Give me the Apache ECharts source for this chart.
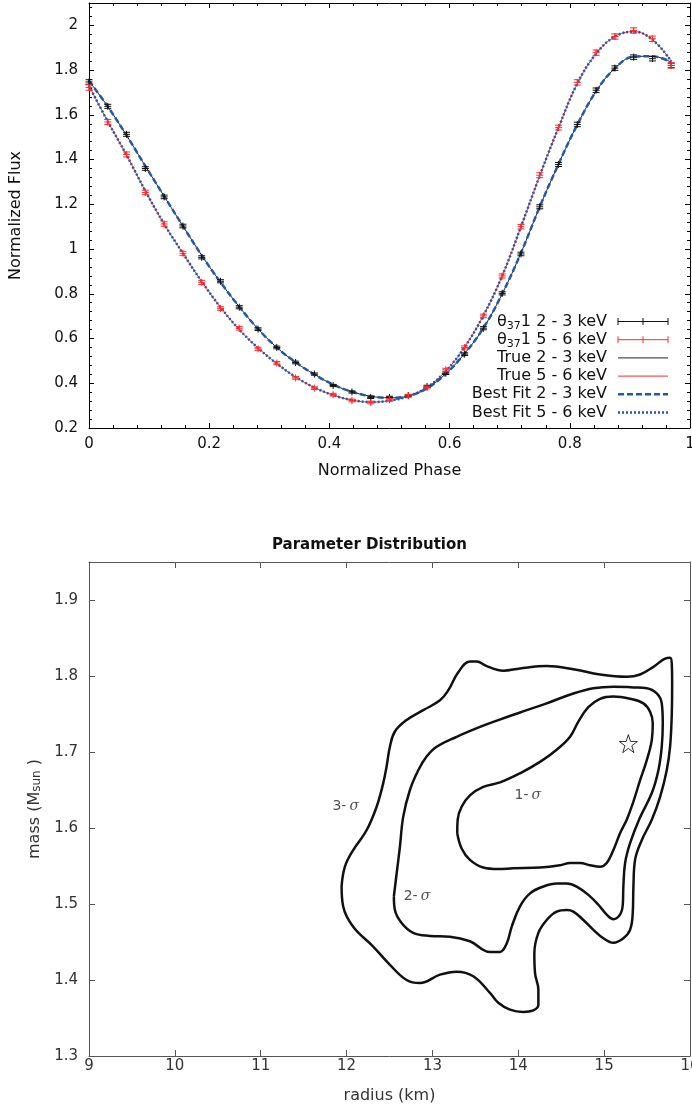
<!DOCTYPE html>
<html><head><meta charset="utf-8">
<script src="https://cdn.jsdelivr.net/npm/echarts@6/dist/echarts.min.js"></script>
<style>html,body{margin:0;padding:0;background:#fff;overflow:hidden}#c{width:692px;height:1110px}</style>
</head><body><div id="c"></div>
<script>
// ---------- Top panel data: light curves ----------
const phase = [0, 0.03125, 0.0625, 0.09375, 0.125, 0.15625, 0.1875, 0.21875, 0.25, 0.28125,
  0.3125, 0.34375, 0.375, 0.40625, 0.4375, 0.46875, 0.5, 0.53125, 0.5625, 0.59375,
  0.625, 0.65625, 0.6875, 0.71875, 0.75, 0.78125, 0.8125, 0.84375, 0.875, 0.90625, 0.9375, 0.96875];
// simulated observations (theta_37 1)
const flux23 = [1.747, 1.638, 1.513, 1.360, 1.233, 1.103, 0.963, 0.856, 0.740, 0.642,
  0.560, 0.493, 0.441, 0.390, 0.361, 0.337, 0.337, 0.345, 0.386, 0.445,
  0.530, 0.646, 0.802, 0.978, 1.189, 1.378, 1.557, 1.710, 1.809, 1.858, 1.851, 1.821];
const flux56 = [1.722, 1.568, 1.423, 1.253, 1.112, 0.981, 0.851, 0.734, 0.646, 0.554,
  0.490, 0.424, 0.378, 0.349, 0.323, 0.314, 0.326, 0.344, 0.381, 0.460,
  0.560, 0.701, 0.880, 1.100, 1.330, 1.543, 1.745, 1.878, 1.950, 1.977, 1.940, 1.821];
const err23 = [0.010, 0.009, 0.009, 0.008, 0.008, 0.008, 0.007, 0.007, 0.007, 0.006,
  0.006, 0.006, 0.005, 0.005, 0.005, 0.005, 0.005, 0.005, 0.005, 0.006,
  0.006, 0.007, 0.007, 0.008, 0.009, 0.009, 0.010, 0.010, 0.010, 0.010, 0.010, 0.010];
const err56 = [0.012, 0.011, 0.011, 0.010, 0.010, 0.009, 0.009, 0.008, 0.008, 0.007,
  0.007, 0.006, 0.006, 0.006, 0.006, 0.006, 0.006, 0.006, 0.006, 0.007,
  0.007, 0.008, 0.009, 0.010, 0.011, 0.011, 0.012, 0.012, 0.012, 0.012, 0.012, 0.012];
// model curves (true and best fit coincide)
const model23 = [1.752, 1.637, 1.508, 1.371, 1.236, 1.103, 0.972, 0.852, 0.742, 0.643,
  0.560, 0.494, 0.440, 0.394, 0.362, 0.342, 0.335, 0.343, 0.378, 0.443,
  0.533, 0.647, 0.800, 0.983, 1.189, 1.380, 1.556, 1.705, 1.808, 1.860, 1.862, 1.835];
const model56 = [1.730, 1.570, 1.420, 1.260, 1.112, 0.981, 0.855, 0.740, 0.640, 0.558,
  0.488, 0.428, 0.381, 0.347, 0.325, 0.316, 0.322, 0.342, 0.382, 0.455,
  0.562, 0.703, 0.880, 1.100, 1.328, 1.543, 1.740, 1.873, 1.950, 1.972, 1.936, 1.840];
const legendLabels = ['{t|θ}{sub|37}{t|1 2 - 3 keV}', '{t|θ}{sub|37}{t|1 5 - 6 keV}',
  'True 2 - 3 keV', 'True 5 - 6 keV', 'Best Fit 2 - 3 keV', 'Best Fit 5 - 6 keV'];

// ---------- Bottom panel data: confidence contours (radius km, mass Msun) ----------
const sigma1 = [[13.289,1.593],[13.294,1.611],[13.340,1.628],[13.437,1.643],[13.592,1.654],[13.787,1.660],
  [14.020,1.672],[14.253,1.687],[14.447,1.703],[14.603,1.720],[14.700,1.740],[14.816,1.759],[14.952,1.770],
  [15.108,1.773],[15.302,1.770],[15.457,1.764],[15.535,1.753],[15.566,1.738],[15.555,1.716],[15.496,1.689],
  [15.419,1.663],[15.333,1.632],[15.263,1.611],[15.185,1.593],[15.108,1.571],[15.030,1.554],[14.952,1.549],
  [14.836,1.551],[14.719,1.554],[14.603,1.554],[14.486,1.551],[14.253,1.548],[13.942,1.547],[13.767,1.546],
  [13.592,1.548],[13.437,1.558],[13.340,1.573]];
const sigma2 = [[12.551,1.510],[12.583,1.540],[12.621,1.575],[12.660,1.615],[12.738,1.650],[12.835,1.676],
  [12.932,1.694],[13.049,1.707],[13.282,1.720],[13.554,1.733],[13.767,1.742],[14.020,1.752],[14.331,1.764],
  [14.641,1.777],[14.875,1.784],[15.108,1.786],[15.341,1.785],[15.496,1.784],[15.613,1.777],[15.671,1.764],
  [15.683,1.738],[15.671,1.707],[15.632,1.676],[15.555,1.646],[15.410,1.612],[15.302,1.580],[15.244,1.554],
  [15.224,1.523],[15.217,1.499],[15.185,1.486],[15.108,1.480],[15.030,1.486],[14.933,1.499],[14.816,1.512],
  [14.680,1.523],[14.564,1.527],[14.447,1.527],[14.292,1.523],[14.137,1.514],[14.020,1.497],[13.923,1.470],
  [13.865,1.448],[13.787,1.437],[13.670,1.437],[13.437,1.451],[13.204,1.457],[12.971,1.458],[12.776,1.462],
  [12.641,1.475],[12.563,1.492]];
const sigma3 = [[11.942,1.523],[11.980,1.549],[12.077,1.571],[12.233,1.597],[12.350,1.628],[12.427,1.659],
  [12.466,1.681],[12.505,1.707],[12.563,1.727],[12.699,1.742],[12.893,1.755],[13.088,1.768],[13.184,1.781],
  [13.301,1.805],[13.437,1.819],[13.515,1.819],[13.631,1.813],[13.826,1.807],[14.020,1.810],[14.331,1.813],
  [14.641,1.809],[14.952,1.802],[15.263,1.799],[15.419,1.802],[15.574,1.812],[15.710,1.823],[15.768,1.824],
  [15.788,1.816],[15.792,1.790],[15.788,1.751],[15.768,1.707],[15.729,1.676],[15.652,1.641],[15.555,1.611],
  [15.438,1.584],[15.360,1.558],[15.341,1.523],[15.333,1.488],[15.302,1.466],[15.224,1.455],[15.108,1.449],
  [14.991,1.455],[14.875,1.466],[14.758,1.479],[14.641,1.490],[14.564,1.492],[14.447,1.490],[14.331,1.479],
  [14.234,1.462],[14.187,1.435],[14.195,1.409],[14.234,1.387],[14.234,1.367],[14.175,1.360],[14.059,1.358],
  [13.903,1.361],[13.767,1.370],[13.670,1.383],[13.476,1.405],[13.282,1.411],[13.088,1.407],[12.854,1.396],
  [12.699,1.400],[12.505,1.420],[12.310,1.444],[12.077,1.470],[11.960,1.497]];
const contourLabelPos = [[14.11,1.643],[12.82,1.510],[11.99,1.628]];
const contourLabelText = ['1-', '2-', '3-'];
const truePoint = [[15.282,1.711]];

// ---------- Chart ----------
const F = 'DejaVu Sans';
const BLUE = '#2258a8', RED = '#ff2b2b';
const chart = echarts.init(document.getElementById('c'), null, {renderer: 'canvas'});
const pairs = (xs, ys) => xs.map((x, i) => [x, ys[i]]);
const triples = (xs, ys, es) => xs.map((x, i) => [x, ys[i], es[i]]);
const closed = a => a.concat([a[0]]);
const fmt = v => String(Math.round(v * 100) / 100);

function errRender(color) {
  return function (params, api) {
    const x = api.value(0), y = api.value(1), e = api.value(2);
    const c = api.coord([x, y]), hi = api.coord([x, y + e]), lo = api.coord([x, y - e]);
    const w = 3.5, st = {stroke: color, lineWidth: 1};
    return {type: 'group', children: [
      {type: 'line', shape: {x1: c[0], y1: hi[1], x2: c[0], y2: lo[1]}, style: st},
      {type: 'line', shape: {x1: c[0] - w, y1: hi[1], x2: c[0] + w, y2: hi[1]}, style: st},
      {type: 'line', shape: {x1: c[0] - w, y1: lo[1], x2: c[0] + w, y2: lo[1]}, style: st},
      {type: 'line', shape: {x1: c[0] - w, y1: c[1], x2: c[0] + w, y2: c[1]}, style: st},
      {type: 'line', shape: {x1: c[0], y1: c[1] - w, x2: c[0], y2: c[1] + w}, style: st}
    ]};
  };
}

function axis(o) {
  const col = o.col || '#000';
  return Object.assign({
    type: 'value', splitLine: {show: false},
    axisLine: {show: true, onZero: false, lineStyle: {color: col, width: 1}},
    axisTick: {show: true, inside: true, length: o.tickLen || 5, lineStyle: {color: col}},
    minorTick: {show: !!o.minor, splitNumber: 5, length: 3, lineStyle: {color: col}},
    axisLabel: {show: !o.noLabel, color: o.labCol || '#111', fontSize: 15, fontFamily: F,
      margin: o.margin || 9, formatter: fmt, showMaxLabel: o.showMax !== false, hideOverlap: false}
  }, o.extra);
}

const legendRowY = [321.5, 339.7, 357.9, 376.1, 394.3, 412.5];
const graphics = [];
legendLabels.forEach((t, i) => {
  graphics.push({type: 'text', x: 607, y: legendRowY[i], style: {
    text: t, fill: '#111', font: '16px ' + F, textAlign: 'right', textVerticalAlign: 'middle',
    rich: {t: {fontSize: 16, fontFamily: F, lineHeight: 20, verticalAlign: 'middle', fill: '#111'},
      sub: {fontSize: 11, fontFamily: F, lineHeight: 11, verticalAlign: 'bottom', fill: '#111'}}}});
});
[[0, '#111'], [1, RED]].forEach(([i, c]) => {
  const y = legendRowY[i], st = {stroke: c, lineWidth: 1};
  graphics.push({type: 'line', shape: {x1: 618, y1: y, x2: 668, y2: y}, style: st});
  [618, 643, 668].forEach(x => graphics.push({type: 'line', shape: {x1: x, y1: y - 3.5, x2: x, y2: y + 3.5}, style: st}));
});
graphics.push({type: 'line', shape: {x1: 618, y1: legendRowY[2], x2: 668, y2: legendRowY[2]}, style: {stroke: '#222', lineWidth: 1}});
graphics.push({type: 'line', shape: {x1: 618, y1: legendRowY[3], x2: 668, y2: legendRowY[3]}, style: {stroke: RED, lineWidth: 1}});
graphics.push({type: 'line', shape: {x1: 618, y1: legendRowY[4], x2: 668, y2: legendRowY[4]}, style: {stroke: BLUE, lineWidth: 2.5, lineDash: [6, 3]}});
graphics.push({type: 'line', shape: {x1: 618, y1: legendRowY[5], x2: 668, y2: legendRowY[5]}, style: {stroke: BLUE, lineWidth: 2.5, lineDash: [2, 2]}});

const option = {
  animation: false,
  backgroundColor: '#fff',
  title: {text: 'Parameter Distribution', left: 267, top: 533,
    textStyle: {fontFamily: F, fontSize: 15, fontWeight: 'bold', color: '#111'}},
  grid: [
    {left: 89, top: 3, width: 601, height: 425, containLabel: false, outerBoundsMode: 'none'},
    {left: 89, top: 562, width: 601, height: 494, containLabel: false, outerBoundsMode: 'none'}
  ],
  xAxis: [
    axis({minor: true, extra: {gridIndex: 0, min: 0, max: 1, interval: 0.2, position: 'bottom',
      name: 'Normalized Phase', nameLocation: 'middle', nameGap: 35,
      nameTextStyle: {fontFamily: F, fontSize: 16, color: '#111'}}}),
    axis({minor: true, noLabel: true, extra: {gridIndex: 0, min: 0, max: 1, interval: 0.2, position: 'top'}}),
    axis({col: '#555', labCol: '#333', tickLen: 6, margin: 3, extra: {gridIndex: 1, min: 9, max: 16, interval: 1, position: 'bottom',
      name: 'radius (km)', nameLocation: 'middle', nameGap: 32,
      nameTextStyle: {fontFamily: F, fontSize: 16, color: '#333'}}}),
    axis({col: '#555', noLabel: true, tickLen: 6, extra: {gridIndex: 1, min: 9, max: 16, interval: 1, position: 'top'}})
  ],
  yAxis: [
    axis({minor: true, showMax: false, margin: 11, extra: {gridIndex: 0, min: 0.2, max: 2.1, interval: 0.2, position: 'left',
      name: 'Normalized Flux', nameLocation: 'middle', nameGap: 65, nameRotate: 90,
      nameTextStyle: {fontFamily: F, fontSize: 16, color: '#111'}}}),
    axis({minor: true, noLabel: true, extra: {gridIndex: 0, min: 0.2, max: 2.1, interval: 0.2, position: 'right'}}),
    axis({col: '#555', labCol: '#333', tickLen: 6, showMax: false, margin: 11, extra: {gridIndex: 1, min: 1.3, max: 1.95, interval: 0.1, position: 'left',
      name: 'mass (M{sub|sun} )', nameLocation: 'middle', nameGap: 39, nameRotate: 90,
      nameTextStyle: {fontFamily: F, fontSize: 16, color: '#333',
        rich: {sub: {fontSize: 12, fontFamily: F, color: '#333', verticalAlign: 'bottom', lineHeight: 12}}}}}),
    axis({col: '#555', noLabel: true, tickLen: 6, extra: {gridIndex: 1, min: 1.3, max: 1.95, interval: 0.1, position: 'right'}})
  ],
  graphic: graphics,
  series: [
    {type: 'line', xAxisIndex: 0, yAxisIndex: 0, data: pairs(phase, model23), smooth: 0.4, symbol: 'none',
      lineStyle: {color: '#222', width: 1}, z: 2},
    {type: 'line', xAxisIndex: 0, yAxisIndex: 0, data: pairs(phase, model56), smooth: 0.4, symbol: 'none',
      lineStyle: {color: RED, width: 1}, z: 2},
    {type: 'line', xAxisIndex: 0, yAxisIndex: 0, data: pairs(phase, model23), smooth: 0.4, symbol: 'none',
      lineStyle: {color: BLUE, width: 2.5, type: [6, 3]}, z: 3},
    {type: 'line', xAxisIndex: 0, yAxisIndex: 0, data: pairs(phase, model56), smooth: 0.4, symbol: 'none',
      lineStyle: {color: BLUE, width: 2.5, type: [2, 2]}, z: 3},
    {type: 'custom', xAxisIndex: 0, yAxisIndex: 0, data: triples(phase, flux23, err23),
      renderItem: errRender('#111'), encode: {x: 0, y: 1}, z: 4},
    {type: 'custom', xAxisIndex: 0, yAxisIndex: 0, data: triples(phase, flux56, err56),
      renderItem: errRender(RED), encode: {x: 0, y: 1}, z: 4},
    {type: 'line', xAxisIndex: 2, yAxisIndex: 2, data: closed(sigma3), smooth: 0.4, symbol: 'none',
      lineStyle: {color: '#111', width: 2.5}},
    {type: 'line', xAxisIndex: 2, yAxisIndex: 2, data: closed(sigma2), smooth: 0.4, symbol: 'none',
      lineStyle: {color: '#111', width: 2.5}},
    {type: 'line', xAxisIndex: 2, yAxisIndex: 2, data: closed(sigma1), smooth: 0.4, symbol: 'none',
      lineStyle: {color: '#111', width: 2.5}},
    {type: 'scatter', xAxisIndex: 2, yAxisIndex: 2, data: truePoint, symbolSize: 18,
      symbol: 'path://M50,0 L61.8,35.1 L98.9,35.1 L68.8,57.3 L80.2,92.7 L50,70.8 L19.8,92.7 L31.2,57.3 L1.1,35.1 L38.2,35.1 Z',
      itemStyle: {color: '#fff', borderColor: '#000', borderWidth: 1}},
    {type: 'scatter', xAxisIndex: 2, yAxisIndex: 2, data: contourLabelPos, symbolSize: 0,
      label: {show: true, position: 'inside',
        formatter: p => '{a|' + contourLabelText[p.dataIndex] + '}{s|σ}',
        rich: {a: {fontFamily: F, fontSize: 14, color: '#222', padding: [0, 3, 0, 0]},
          s: {fontFamily: 'DejaVu Serif', fontStyle: 'italic', fontSize: 14, color: '#222'}}}}
  ]
};
chart.setOption(option);
</script>
</body></html>
